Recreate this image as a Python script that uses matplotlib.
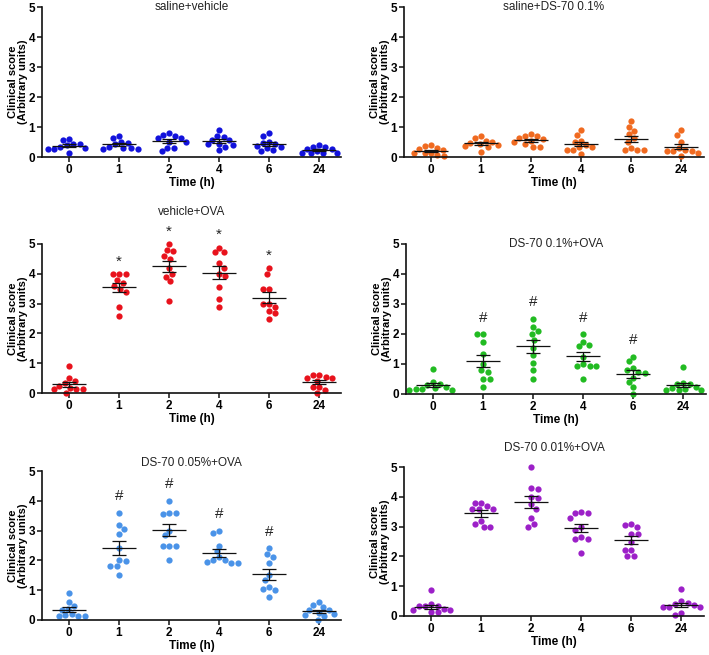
import numpy as np
import matplotlib
matplotlib.use('Agg')
import matplotlib.pyplot as plt

plt.rcParams['font.family'] = ['Liberation Sans', 'DejaVu Sans']

# ---------------- data ----------------
time_labels = ['0', '1', '2', '4', '6', '24']

titles = ['saline+vehicle', 'saline+DS-70 0.1%', 'vehicle+OVA',
          'DS-70 0.1%+OVA', 'DS-70 0.05%+OVA', 'DS-70 0.01%+OVA']

colors = ['#1212dc', '#f06a20', '#e8121c', '#22bb22', '#4a93e8', '#9c20c8']

saline_vehicle = [
    [0.6, 0.58, 0.43, 0.43, 0.4, 0.35, 0.3, 0.28, 0.28, 0.15],
    [0.7, 0.65, 0.5, 0.48, 0.42, 0.35, 0.3, 0.3, 0.28, 0.28],
    [0.81, 0.73, 0.7, 0.62, 0.62, 0.51, 0.51, 0.31, 0.31, 0.2],
    [0.9, 0.7, 0.68, 0.57, 0.57, 0.45, 0.42, 0.4, 0.33, 0.23],
    [0.8, 0.7, 0.5, 0.48, 0.42, 0.38, 0.35, 0.3, 0.22, 0.2],
    [0.4, 0.35, 0.33, 0.28, 0.28, 0.2, 0.15, 0.13, 0.15, 0.12],
]
saline_ds70 = [
    [0.38, 0.4, 0.3, 0.26, 0.23, 0.15, 0.15, 0.12, 0.08, 0.02],
    [0.7, 0.62, 0.55, 0.5, 0.48, 0.45, 0.4, 0.36, 0.35, 0.16],
    [0.78, 0.7, 0.7, 0.62, 0.6, 0.55, 0.5, 0.45, 0.35, 0.35],
    [0.9, 0.75, 0.55, 0.5, 0.4, 0.35, 0.35, 0.25, 0.23, 0.1],
    [1.2, 1.0, 0.87, 0.76, 0.62, 0.5, 0.3, 0.23, 0.25, 0.23],
    [0.9, 0.75, 0.5, 0.3, 0.23, 0.2, 0.2, 0.2, 0.15, 0.05],
]
vehicle_ova = [
    [0.9, 0.5, 0.4, 0.33, 0.25, 0.17, 0.15, 0.15, 0.12, 0.0],
    [4.0, 4.0, 4.0, 3.8, 3.7, 3.6, 3.5, 3.4, 2.9, 2.6],
    [5.0, 4.8, 4.75, 4.6, 4.5, 4.2, 4.0, 3.9, 3.75, 3.1],
    [4.88, 4.72, 4.72, 4.35, 4.2, 4.0, 3.92, 3.55, 3.15, 2.88],
    [4.2, 4.0, 3.5, 3.5, 3.0, 3.0, 2.9, 2.75, 2.68, 2.5],
    [0.6, 0.6, 0.5, 0.55, 0.5, 0.4, 0.2, 0.2, 0.1, 0.0],
]
ds70_01_ova = [
    [0.85, 0.4, 0.35, 0.3, 0.25, 0.2, 0.17, 0.17, 0.15, 0.15],
    [2.0, 2.0, 1.75, 1.35, 1.0, 0.8, 0.75, 0.5, 0.5, 0.25],
    [2.5, 2.25, 2.1, 2.0, 1.8, 1.55, 1.3, 1.05, 0.8, 0.5],
    [2.0, 1.75, 1.65, 1.6, 1.25, 1.0, 0.95, 0.95, 0.95, 0.5],
    [1.25, 1.1, 0.88, 0.8, 0.75, 0.7, 0.55, 0.4, 0.25, 0.0],
    [0.9, 0.38, 0.35, 0.35, 0.25, 0.2, 0.18, 0.15, 0.12, 0.12],
]
ds70_005_ova = [
    [0.9, 0.6, 0.47, 0.38, 0.35, 0.2, 0.17, 0.15, 0.15, 0.12],
    [3.6, 3.2, 3.05, 2.88, 2.42, 2.0, 1.98, 1.8, 1.8, 1.5],
    [4.0, 3.6, 3.6, 3.55, 3.0, 2.85, 2.5, 2.5, 2.5, 2.0],
    [3.0, 2.92, 2.5, 2.3, 2.1, 2.0, 2.0, 1.95, 1.9, 1.9],
    [2.4, 2.2, 2.1, 1.9, 1.5, 1.35, 1.1, 1.05, 1.0, 0.78],
    [0.6, 0.5, 0.42, 0.33, 0.33, 0.25, 0.2, 0.17, 0.12, 0.0],
]
ds70_001_ova = [
    [0.87, 0.4, 0.35, 0.32, 0.32, 0.25, 0.2, 0.2, 0.15, 0.12],
    [3.8, 3.8, 3.7, 3.6, 3.6, 3.6, 3.2, 3.1, 3.0, 3.0],
    [5.0, 4.3, 4.25, 4.0, 3.95, 3.75, 3.6, 3.3, 3.1, 3.0],
    [3.5, 3.45, 3.45, 3.3, 3.0, 2.9, 2.65, 2.6, 2.6, 2.1],
    [3.1, 3.05, 3.0, 2.75, 2.75, 2.5, 2.2, 2.2, 2.0, 2.0],
    [0.9, 0.5, 0.45, 0.4, 0.38, 0.3, 0.3, 0.3, 0.1, 0.05],
]

panels = [saline_vehicle, saline_ds70, vehicle_ova,
          ds70_01_ova, ds70_005_ova, ds70_001_ova]

sig_marks = [
    ['', '', '', '', '', ''],
    ['', '', '', '', '', ''],
    ['', '*', '*', '*', '*', ''],
    ['', '#', '#', '#', '#', ''],
    ['', '#', '#', '#', '#', ''],
    ['', '', '', '', '', ''],
]

# ---------------- layout (pixels) ----------------
W, H = 709, 655
# left, right, top, bottom in pixels
rects = [
    (42, 341, 7, 157),
    (404, 704, 7, 157),
    (42, 341, 244, 393),
    (406, 706, 244, 394),
    (42, 341, 471, 620),
    (404, 704, 467, 616),
]
title_offset_px = [0, 0, 32, 0, 8, 19]

fig = plt.figure(figsize=(W / 100, H / 100), dpi=100)


def swarm_offsets(vals, xscale, yscale, d=6.3, step=0.5):
    vals = np.asarray(vals, float)
    order = np.argsort(-vals, kind='stable')
    placed = []
    offs = np.zeros(len(vals))
    for n, i in enumerate(order):
        y = vals[i] * yscale
        found = None
        k = 0
        while found is None:
            signs = [0] if k == 0 else ([1, -1] if n % 2 == 0 else [-1, 1])
            for s in signs:
                x = s * k * step
                if all((x - px) ** 2 + (y - py) ** 2 >= d * d for px, py in placed):
                    found = x
                    break
            k += 1
        placed.append((found, y))
        offs[i] = found / xscale
    return offs


for p, (data, color, title, marks, rect, toff) in enumerate(
        zip(panels, colors, titles, sig_marks, rects, title_offset_px)):
    l, r, t, b = rect
    ax = fig.add_axes([l / W, (H - b) / H, (r - l) / W, (b - t) / H])
    x0 = 0.54
    ax.set_xlim(-x0, -x0 + (r - l) / 50.0)
    ax.set_ylim(0, 5)
    xscale = 50.0
    yscale = (b - t) / 5.0
    for i, vals in enumerate(data):
        vals = np.asarray(vals, float)
        offs = swarm_offsets(vals, xscale, yscale)
        ax.plot(i + offs, vals, 'o', color=color, ms=4.5, mec='none',
                clip_on=False, zorder=2)
        m = vals.mean()
        sem = vals.std(ddof=1) / np.sqrt(len(vals))
        ax.hlines(m, i - 0.34, i + 0.34, color='#111111', lw=0.9, zorder=3)
        ax.vlines(i, m - sem, m + sem, color='#111111', lw=0.9, zorder=3)
        ax.hlines([m - sem, m + sem], i - 0.14, i + 0.14, color='#111111',
                  lw=0.9, zorder=3)
        if marks[i]:
            ax.text(i, vals.max() + (0.42 if marks[i] == '*' else 0.55),
                    marks[i], ha='center', va='center', fontsize=11,
                    color='#222222', clip_on=False)
    ax.set_xticks(range(len(time_labels)))
    ax.set_xticklabels(time_labels)
    ax.set_yticks(range(6))
    for side in ['top', 'right']:
        ax.spines[side].set_visible(False)
    for side in ['left', 'bottom']:
        ax.spines[side].set_linewidth(1.2)
        ax.spines[side].set_color('#111111')
    ax.tick_params(axis='both', direction='out', length=3.5, width=1.1,
                   labelsize=8.5, pad=1.5, color='#111111')
    for lab in ax.get_xticklabels() + ax.get_yticklabels():
        lab.set_fontweight('bold')
    ax.set_xlabel('Time (h)', fontsize=8.5, fontweight='bold')
    ax.xaxis.set_label_coords(0.5, -26.0 / (b - t))
    ax.xaxis.label.set_va('center')
    ax.set_ylabel('Clinical score\n(Arbitrary units)', fontsize=8,
                  fontweight='bold', linespacing=0.95)
    ax.yaxis.set_label_coords(-24.0 / (r - l), 0.5)
    ax.yaxis.label.set_va('center')
    ax.text(0.5, 1 + toff / (b - t), title, transform=ax.transAxes,
            ha='center', va='center', fontsize=8.5, color='#222222')

fig.savefig('out.png', dpi=100)
